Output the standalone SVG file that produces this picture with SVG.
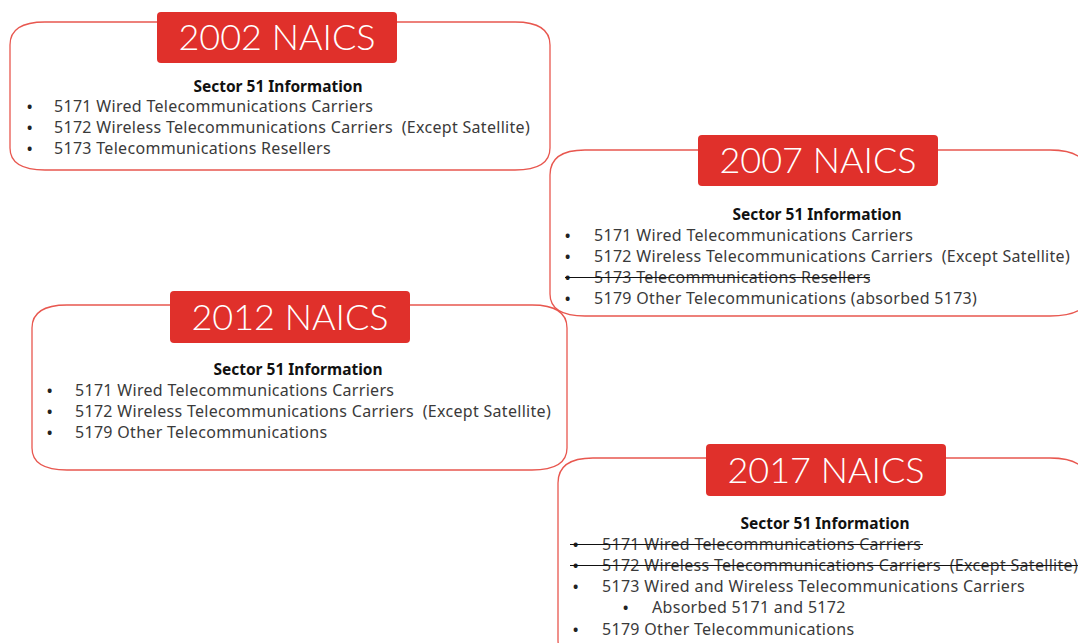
<svg xmlns="http://www.w3.org/2000/svg" width="1078" height="643" viewBox="0 0 1078 643">
<style>
.frame{fill:none;stroke:#e8574f;stroke-width:1.3}
.tbox{fill:#e0302b}
.title{font-family:Lato,"Noto Sans",sans-serif;font-weight:300;font-size:36px;fill:#ffffff;text-anchor:middle}
.head{font-family:"Noto Sans",sans-serif;font-weight:bold;font-size:15.5px;fill:#111;text-anchor:middle}
.item{font-family:"Noto Sans",sans-serif;font-size:16px;letter-spacing:0.3px;fill:#3a3a3a;white-space:pre}
.bul{font-family:"Noto Sans",sans-serif;font-size:14px;font-weight:bold;fill:#222}
.strike{stroke:#111;stroke-width:1.2}
</style>
<rect width="1078" height="643" fill="#ffffff"/>
<g id="box2002">
<path class="frame" d="M45,22 H515 Q550,22 550,45 V148 Q550,170 515,170 H45 Q10,170 10,148 V45 Q10,22 45,22 Z"/>
<rect class="tbox" x="157" y="12" width="240" height="51" rx="4"/>
<text class="title" x="277" y="50">2002 NAICS</text>
<text class="head" x="278" y="92">Sector 51 Information</text>
<text class="bul" x="27" y="112">•</text><text class="item" x="54" y="112">5171 Wired Telecommunications Carriers</text>
<text class="bul" x="27" y="133">•</text><text class="item" x="54" y="133">5172 Wireless Telecommunications Carriers  (Except Satellite)</text>
<text class="bul" x="27" y="154">•</text><text class="item" x="54" y="154">5173 Telecommunications Resellers</text>
</g>
<g id="box2007">
<path class="frame" d="M585,150 H1050 Q1088,150 1088,175 V294 Q1088,316 1050,316 H585 Q550,316 550,294 V175 Q550,150 585,150 Z"/>
<rect class="tbox" x="698" y="135" width="240" height="51" rx="4"/>
<text class="title" x="818" y="173">2007 NAICS</text>
<text class="head" x="817" y="220">Sector 51 Information</text>
<text class="bul" x="565" y="241">•</text><text class="item" x="594" y="241">5171 Wired Telecommunications Carriers</text>
<text class="bul" x="565" y="262">•</text><text class="item" x="594" y="262">5172 Wireless Telecommunications Carriers  (Except Satellite)</text>
<text class="bul" x="565" y="283">•</text><text class="item" x="594" y="283">5173 Telecommunications Resellers</text>
<line class="strike" x1="565" y1="277.5" x2="870" y2="277.5"/>
<text class="bul" x="565" y="304">•</text><text class="item" x="594" y="304">5179 Other Telecommunications (absorbed 5173)</text>
</g>
<g id="box2012">
<path class="frame" d="M67,305 H532 Q567,305 567,328 V448 Q567,470 532,470 H67 Q32,470 32,448 V328 Q32,305 67,305 Z"/>
<rect class="tbox" x="170" y="291" width="240" height="52" rx="4"/>
<text class="title" x="290" y="330">2012 NAICS</text>
<text class="head" x="298" y="375">Sector 51 Information</text>
<text class="bul" x="47" y="396">•</text><text class="item" x="75" y="396">5171 Wired Telecommunications Carriers</text>
<text class="bul" x="47" y="417">•</text><text class="item" x="75" y="417">5172 Wireless Telecommunications Carriers  (Except Satellite)</text>
<text class="bul" x="47" y="438">•</text><text class="item" x="75" y="438">5179 Other Telecommunications</text>
</g>
<g id="box2017">
<path class="frame" d="M593,458 H1050 Q1088,458 1088,483 V640 Q1088,662 1050,662 H593 Q558,662 558,640 V483 Q558,458 593,458 Z"/>
<rect class="tbox" x="706" y="444" width="240" height="52" rx="4"/>
<text class="title" x="826" y="483">2017 NAICS</text>
<text class="head" x="825" y="529">Sector 51 Information</text>
<text class="bul" x="573" y="550">•</text><text class="item" x="602" y="550">5171 Wired Telecommunications Carriers</text>
<line class="strike" x1="570" y1="544.5" x2="923" y2="544.5"/>
<text class="bul" x="573" y="571">•</text><text class="item" x="602" y="571">5172 Wireless Telecommunications Carriers  (Except Satellite)</text>
<line class="strike" x1="570" y1="565.5" x2="1078" y2="565.5"/>
<text class="bul" x="573" y="592">•</text><text class="item" x="602" y="592">5173 Wired and Wireless Telecommunications Carriers</text>
<text class="bul" x="623" y="613">•</text><text class="item" x="652" y="613">Absorbed 5171 and 5172</text>
<text class="bul" x="573" y="635">•</text><text class="item" x="602" y="635">5179 Other Telecommunications</text>
</g>
</svg>
